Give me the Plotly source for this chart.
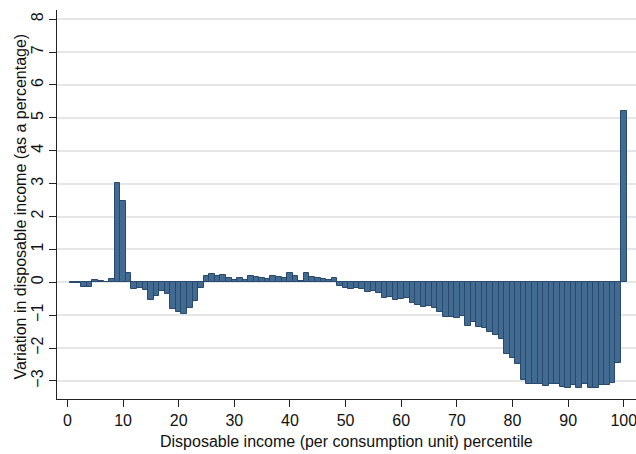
import plotly.graph_objects as go

percentiles = list(range(1, 101))
variation = [
    -0.02, -0.02, -0.14, -0.13, 0.06, 0.03, 0.02, 0.10, 3.03, 2.46,
    0.29, -0.20, -0.18, -0.23, -0.53, -0.41, -0.27, -0.35, -0.80, -0.90,
    -0.96, -0.79, -0.56, -0.16, 0.19, 0.25, 0.20, 0.22, 0.12, 0.07,
    0.12, 0.07, 0.18, 0.15, 0.12, 0.11, 0.20, 0.16, 0.12, 0.28,
    0.18, 0.04, 0.28, 0.15, 0.13, 0.10, 0.07, 0.14, -0.11, -0.16,
    -0.21, -0.17, -0.19, -0.30, -0.26, -0.34, -0.49, -0.44, -0.53, -0.51,
    -0.49, -0.62, -0.70, -0.75, -0.72, -0.78, -0.90, -1.07, -1.07, -1.08,
    -1.04, -1.34, -1.20, -1.35, -1.40, -1.50, -1.60, -1.72, -2.17, -2.29,
    -2.50, -2.96, -3.08, -3.10, -3.10, -3.15, -3.10, -3.08, -3.20, -3.23,
    -3.12, -3.23, -3.08, -3.22, -3.22, -3.12, -3.11, -3.05, -2.46, 5.20,
]
x_ticks = list(range(0, 101, 10))
y_ticks = list(range(-3, 9))
x_title = "Disposable income (per consumption unit) percentile"
y_title = "Variation in disposable income (as a percentage)"

FONT = "Liberation Sans, Arial, sans-serif"
FS = 16

fig = go.Figure(
    go.Bar(
        x=percentiles,
        y=variation,
        width=1,
        marker=dict(color="#436b91", line=dict(color="#27496d", width=1)),
    )
)

fig.update_layout(
    width=636,
    height=454,
    margin=dict(l=57, r=0, t=10, b=55, autoexpand=False),
    paper_bgcolor="white",
    plot_bgcolor="white",
    showlegend=False,
    bargap=0,
    font=dict(family=FONT, size=FS, color="#111111"),
    annotations=[
        dict(text=x_title, xref="paper", yref="paper", x=0.5, y=0,
             xanchor="center", yanchor="middle", yshift=-42, showarrow=False,
             font=dict(size=FS)),
        dict(text=y_title, xref="paper", yref="paper", x=0, y=0.5,
             xanchor="center", yanchor="middle", xshift=-37, yshift=-2,
             textangle=-90, showarrow=False, font=dict(size=FS)),
    ],
)

fig.update_xaxes(
    range=[-1.87, 102.2],
    tickvals=x_ticks,
    ticks="outside",
    ticklen=7,
    tickwidth=1,
    tickcolor="#222222",
    showline=True,
    linecolor="#222222",
    linewidth=1,
    showgrid=False,
    zeroline=False,
    automargin=False,
    ticklabeloverflow="allow",
    tickfont=dict(size=FS),
)

fig.update_yaxes(
    range=[-3.55, 8.28],
    tickvals=y_ticks,
    tickangle=-90,
    ticks="outside",
    ticklen=7,
    tickwidth=1,
    tickcolor="#222222",
    showline=True,
    linecolor="#222222",
    linewidth=1,
    showgrid=True,
    gridcolor="#e6e6e6",
    gridwidth=1.5,
    zeroline=False,
    automargin=False,
    ticklabeloverflow="allow",
    tickfont=dict(size=FS),
)

fig.write_html(
    "out.html",
    config={"displayModeBar": False},
    post_script="document.body.style.margin='0';document.body.style.overflow='hidden';",
)
